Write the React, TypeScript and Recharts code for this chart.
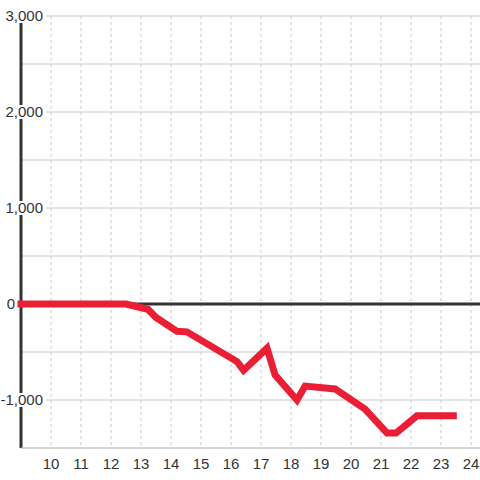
import { CartesianGrid, Line, LineChart, ReferenceLine, XAxis, YAxis } from "recharts";

const hours = [9, 12.5, 13.23, 13.5, 14.2, 14.53, 16.2, 16.42, 17.2, 17.47, 18.2, 18.47, 19.47, 20.47, 21.2, 21.5, 22.2, 23.41];
const values = [0, 0, -55, -140, -285, -290, -600, -690, -460, -740, -1000, -855, -885, -1095, -1345, -1345, -1165, -1165];

const xTicks = [10, 11, 12, 13, 14, 15, 16, 17, 18, 19, 20, 21, 22, 23, 24];
const yTicks = [-1500, -1000, -500, 0, 500, 1000, 1500, 2000, 2500, 3000];

const data = hours.map((h, i) => ({ h, v: values[i] }));

const FONT = "'Liberation Sans', Arial, sans-serif";

function YTick(props: any) {
  const { y, payload } = props;
  const v = payload.value;
  if (v % 1000 !== 0) return <g />;
  if (v === 0) {
    return (
      <text x={15} y={y} dy="0.35em" textAnchor="end" fill="#333" fontSize={15} fontFamily={FONT}>
        0
      </text>
    );
  }
  return (
    <g>
      <rect x={0} y={y - 7} width={46} height={14} fill="#fff" />
      <text x={43} y={y} dy="0.35em" textAnchor="end" fill="#333" fontSize={15} fontFamily={FONT}>
        {v.toLocaleString("en-US")}
      </text>
    </g>
  );
}

export default function App() {
  return (
    <div style={{ position: "absolute", left: 0, top: 0, width: 480, height: 480, overflow: "hidden", background: "#fff" }}>
      <LineChart width={501} height={480} data={data} margin={{ top: 16, right: 0, left: 0, bottom: 2 }}>
        <CartesianGrid vertical={false} stroke="#c8c8c8" />
        <CartesianGrid horizontal={false} stroke="#c8c8c8" strokeDasharray="3 3" />
        <XAxis
          dataKey="h"
          type="number"
          domain={[9, 25]}
          ticks={xTicks}
          height={30}
          axisLine={{ stroke: "#c8c8c8" }}
          tickLine={false}
          tick={{ fill: "#333", fontSize: 15, fontFamily: FONT }}
          tickMargin={4}
        />
        <YAxis
          type="number"
          domain={[-1500, 3000]}
          ticks={yTicks}
          width={21}
          axisLine={false}
          tickLine={false}
          tick={<YTick />}
          interval={0}
        />
        <ReferenceLine x={9} stroke="#333" strokeWidth={3} />
        <ReferenceLine y={0} stroke="#333" strokeWidth={3} />
        <Line
          dataKey="v"
          stroke="#ea1f35"
          strokeWidth={7}
          strokeLinecap="square"
          dot={false}
          activeDot={false}
          strokeLinejoin="miter"
          isAnimationActive={false}
        />
      </LineChart>
    </div>
  );
}
